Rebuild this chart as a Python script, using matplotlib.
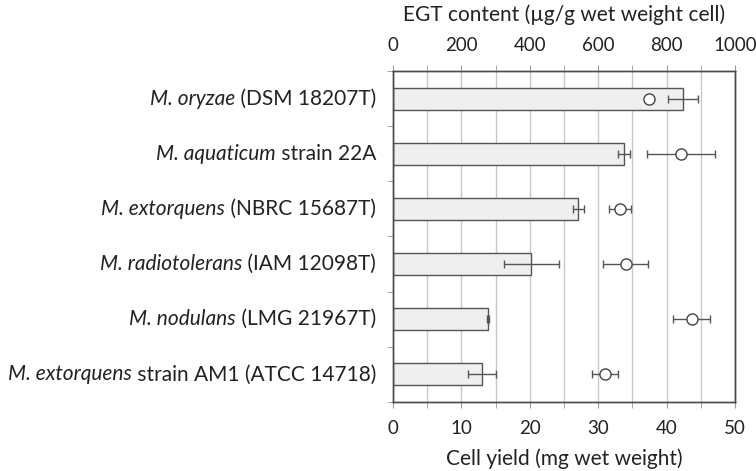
import numpy as np
import matplotlib.pyplot as plt

plt.rcParams['font.family'] = ['Lato', 'DejaVu Sans']

species = ["M. oryzae", "M. aquaticum", "M. extorquens", "M. radiotolerans",
           "M. nodulans", "M. extorquens"]
strains = [" (DSM 18207T)", " strain 22A", " (NBRC 15687T)", " (IAM 12098T)",
           " (LMG 21967T)", " strain AM1 (ATCC 14718)"]

# cell yield (mg wet weight), bottom axis
yield_mg = [42.4, 33.8, 27.1, 20.2, 13.9, 13.0]
yield_err = [2.2, 0.85, 0.85, 4.0, 0.15, 2.0]

# EGT content (ug/g wet weight cell), top axis
egt = [750, 842, 664, 680, 873, 620]
egt_err = [8, 100, 31, 65, 53, 39]

fig = plt.figure(figsize=(7.56, 4.71), dpi=100)
ax = fig.add_axes([0.5198, 0.1465, 0.4524, 0.7028])

y = np.arange(len(species))
edge = "#4a4a4a"
txt = "#222222"
ax.barh(y, yield_mg, height=0.4, color="#efefef", edgecolor="#555555", linewidth=1.0, zorder=2)
ax.errorbar(yield_mg, y, xerr=yield_err, fmt="none", ecolor="#555555",
            elinewidth=1.0, capsize=3, capthick=1.0, zorder=3)

ax.set_xlim(0, 50)
ax.set_ylim(len(species) - 0.5, -0.5)
ax.set_xticks(np.arange(0, 51, 10))
ax.set_xticks(np.arange(0, 51, 5), minor=True)
ax.grid(True, axis="x", which="both", color="#c8c8c8", linewidth=1.0, zorder=0)
ax.set_axisbelow(True)

ax.set_yticks(y)
ax.set_yticklabels([""] * len(y))
ax.set_yticks(np.arange(-0.5, len(species), 1), minor=True)
ax.tick_params(axis="y", which="major", length=0)
ax.tick_params(axis="y", which="minor", length=4, color="#999999", direction="out")
ax.tick_params(axis="x", which="both", length=4, color="#999999", direction="out",
               labelsize=13.5, pad=9)
ax.tick_params(axis="x", which="major", labelcolor=txt)
ax.set_xlabel("Cell yield (mg wet weight)", fontsize=15, color=txt, labelpad=8)

for sp in ax.spines.values():
    sp.set_color(edge)
    sp.set_linewidth(1.0)

# category labels, italic genus + normal strain
for yi, (s, st) in enumerate(zip(species, strains)):
    t = ax.annotate(st, xy=(0, yi), xycoords=("axes fraction", "data"),
                    xytext=(-12, 0), textcoords="offset points",
                    ha="right", va="center", fontsize=15, color=txt)
    ax.annotate(s, xy=(0, 0.5), xycoords=t, xytext=(0, 0), textcoords="offset points",
                ha="right", va="center", fontsize=15, style="italic", color=txt)

ax2 = ax.twiny()
ax2.set_xlim(0, 1000)
ax2.set_xticks(np.arange(0, 1001, 200))
ax2.tick_params(axis="x", length=4, color="#999999", direction="out", labelsize=13.5,
                pad=8, labelcolor=txt)
ax2.set_xticks(np.arange(0, 1001, 100), minor=True)
ax2.tick_params(axis="x", which="minor", length=4, color="#999999", direction="out")
ax2.errorbar(egt, y, xerr=egt_err, fmt="o", color="#555555", ecolor="#555555",
             markerfacecolor="white", markeredgecolor="#444444", markersize=8,
             markeredgewidth=1.0, elinewidth=1.0, capsize=3, capthick=1.0, zorder=4)
ax2.set_xlabel("EGT content (\u00b5g/g wet weight cell)", fontsize=15, color=txt,
               labelpad=12)
for sp in ax2.spines.values():
    sp.set_color(edge)
    sp.set_linewidth(1.0)

fig.savefig("out.png", dpi=100)
